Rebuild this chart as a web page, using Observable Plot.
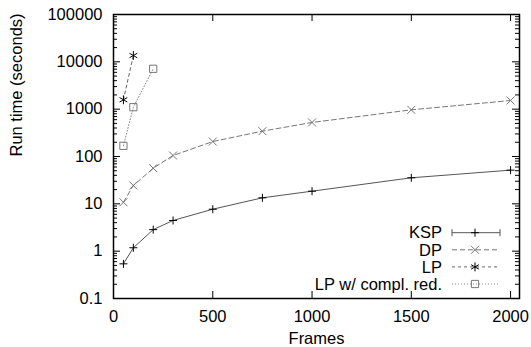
<!DOCTYPE html>
<html><head><meta charset="utf-8">
<script src="https://cdn.jsdelivr.net/npm/d3@7"></script>
<script src="https://cdn.jsdelivr.net/npm/@observablehq/plot@0.6"></script>
<style>body{margin:0;background:#fff}</style>
</head><body><div id="chart"></div>
<script>
// ---- data ----
const frames = [50, 100, 200, 300, 500, 750, 1000, 1500, 2000];
const ksp = [0.54, 1.18, 2.85, 4.45, 7.7, 13.4, 18.5, 35.5, 51.5];
const dp = [10.8, 24.4, 56.6, 105, 207, 343, 524, 968, 1524];
const lpFrames = [50, 100];
const lp = [1578, 13600];
const lpcrFrames = [50, 100, 200];
const lpcr = [168, 1101, 7130];
const xTicks = [0, 500, 1000, 1500, 2000];
const yTicks = [0.1, 1, 10, 100, 1000, 10000, 100000];
const seriesNames = ["KSP", "DP", "LP", "LP w/ compl. red."];

// ---- styles ----
const styles = {
  "KSP": {stroke: "#555", dash: null, symbol: "plus", mark: "#000", r: 2.7},
  "DP": {stroke: "#777", dash: "5,3", symbol: "times", mark: "#777", r: 3.7},
  "LP": {stroke: "#666", dash: "3,3", symbol: "asterisk", mark: "#000", r: 4.2},
  "LP w/ compl. red.": {stroke: "#888", dash: "1,2", symbol: "square2", mark: "#777", r: 4.6}
};

const series = [
  {name: "KSP", xs: frames, ys: ksp},
  {name: "DP", xs: frames, ys: dp},
  {name: "LP", xs: lpFrames, ys: lp},
  {name: "LP w/ compl. red.", xs: lpcrFrames, ys: lpcr}
].map(s => ({name: s.name, rows: s.xs.map((x, i) => ({x, y: s.ys[i]}))}));

const W = 531, H = 347, mL = 113, mR = 12, mT = 14, mB = 49;
const innerW = W - mL - mR, innerH = H - mT - mB;
const font = "'Liberation Sans', Arial, Helvetica, sans-serif";
const fs = 16.5;

const allY = d3.scaleLog().domain([0.1, 100000]).ticks();
const isMajor = v => Math.abs(Math.log10(v) - Math.round(Math.log10(v))) < 1e-9;
const yMinor = allY.filter(v => !isMajor(v));

function legend(index, scales, values, dims) {
  const right = dims.width - dims.marginRight;
  const bottom = dims.height - dims.marginBottom;
  const g = d3.create("svg:g");
  seriesNames.forEach((name, i) => {
    const st = styles[name];
    const y = bottom - 14 - (3 - i) * 17.1;
    g.append("text").attr("x", right - 77).attr("y", y).attr("dy", "0.35em")
      .attr("text-anchor", "end").attr("font-family", font).attr("font-size", fs)
      .attr("fill", "#000").text(name);
    g.append("line").attr("x1", right - 67).attr("x2", right - 19)
      .attr("y1", y).attr("y2", y).attr("stroke", st.stroke)
      .attr("stroke-dasharray", st.dash);
    if (name === "KSP") {
      [right - 67, right - 19].forEach(x => g.append("line")
        .attr("x1", x).attr("x2", x).attr("y1", y - 3.5).attr("y2", y + 3.5)
        .attr("stroke", st.stroke));
    }
    const sym = {plus: d3.symbolPlus, times: d3.symbolTimes, asterisk: d3.symbolAsterisk, square2: d3.symbolSquare2}[st.symbol];
    g.append("path").attr("transform", `translate(${right - 44},${y})`)
      .attr("d", d3.symbol(sym, st.r * st.r * Math.PI)())
      .attr("fill", "none").attr("stroke", st.mark).attr("stroke-width", 1);
  });
  return g.node();
}

const marks = [
  // ticks (inward, mirrored)
  Plot.tickX(xTicks, {x: d => d, insetTop: innerH - 7, stroke: "#000"}),
  Plot.tickX(xTicks, {x: d => d, insetBottom: innerH - 7, stroke: "#000"}),
  Plot.tickY(yTicks, {y: d => d, insetRight: innerW - 7, stroke: "#000"}),
  Plot.tickY(yTicks, {y: d => d, insetLeft: innerW - 7, stroke: "#000"}),
  Plot.tickY(yMinor, {y: d => d, insetRight: innerW - 4, stroke: "#000"}),
  Plot.tickY(yMinor, {y: d => d, insetLeft: innerW - 4, stroke: "#000"}),
  Plot.axisX({ticks: xTicks, tickSize: 0, tickPadding: 12, label: null, fontSize: fs, tickFormat: d => String(d)}),
  Plot.axisY({ticks: yTicks, tickSize: 0, tickPadding: 11, label: null, fontSize: fs, tickFormat: d => String(d)}),
  Plot.text(["Frames"], {text: d => d, frameAnchor: "bottom", dy: 40, fontSize: fs, lineAnchor: "middle"}),
  Plot.text(["Run time (seconds)"], {text: d => d, frameAnchor: "left", dx: -97, rotate: -90, fontSize: fs, lineAnchor: "middle"})
];

series.forEach(s => {
  const st = styles[s.name];
  marks.push(Plot.line(s.rows, {x: "x", y: "y", stroke: st.stroke, strokeWidth: 1, strokeDasharray: st.dash}));
  marks.push(Plot.dot(s.rows, {x: "x", y: "y", symbol: () => st.symbol, r: st.r, stroke: st.mark, fill: "none", strokeWidth: 1}));
});
marks.push(legend);
marks.push(Plot.frame({stroke: "#000", strokeWidth: 1.5}));

const chart = Plot.plot({
  width: W, height: H,
  marginLeft: mL, marginRight: mR, marginTop: mT, marginBottom: mB,
  style: {fontFamily: font, fontSize: fs + "px", background: "#fff", color: "#000"},
  x: {domain: [0, 2045], axis: null},
  y: {type: "log", domain: [0.1, 100000], axis: null},
  symbol: {type: "identity"},
  marks
});
document.getElementById("chart").appendChild(chart);
</script>
</body></html>
